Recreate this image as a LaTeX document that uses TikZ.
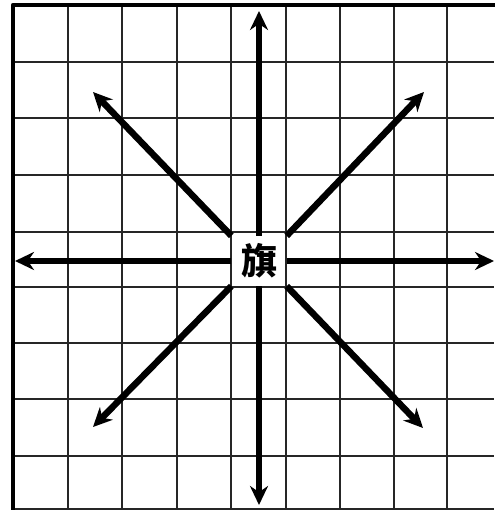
\documentclass[tikz,border=0pt]{standalone}
\usepackage{fontspec}
\newfontfamily\cjk{Noto Sans CJK SC}
\usetikzlibrary{arrows.meta}
\tikzset{
  every picture/.style={line join=round, line cap=round, >=Stealth},
  gridline/.style={line width=2pt, black!85, line cap=butt},
  border/.style={line width=4.2pt, line cap=rect},
  arrowline/.style={line width=6.5pt, line cap=butt, -{Stealth[length=19pt,width=18pt]}},
}

\begin{document}
\begin{tikzpicture}[x=1pt,y=-1pt]
\useasboundingbox (0,0) rectangle (494,510);
% grid
\foreach \x in {68,122,177,231,286,340,394,447}
  \draw[gridline] (\x,5)--(\x,510);
\foreach \y in {62,118,175,232,287,343,399,456,509}
  \draw[gridline] (13,\y)--(494,\y);
\draw[border] (13,510)--(13,5)--(494,5);
% centre
\node[font=\cjk\bfseries\fontsize{36}{36}\selectfont, minimum width=55pt, minimum height=50pt, inner sep=0pt] (qi) at (259,261) {旗};
\coordinate (up) at (259,11);
\coordinate (down) at (259,505);
\coordinate (left) at (15,261);
\coordinate (right) at (494,261);
\coordinate (upleft) at (93,92);
\coordinate (upright) at (424,92);
\coordinate (downleft) at (93,427);
\coordinate (downright) at (423,428);
% arrows
\draw[arrowline] (qi.north) -- (up);
\draw[arrowline] (qi.south) -- (down);
\draw[arrowline] (qi.west) -- (left);
\draw[arrowline] (qi.east) -- (right);
\draw[arrowline] (qi.north west) -- (upleft);
\draw[arrowline] (qi.north east) -- (upright);
\draw[arrowline] (qi.south west) -- (downleft);
\draw[arrowline] (qi.south east) -- (downright);
\end{tikzpicture}
\end{document}
